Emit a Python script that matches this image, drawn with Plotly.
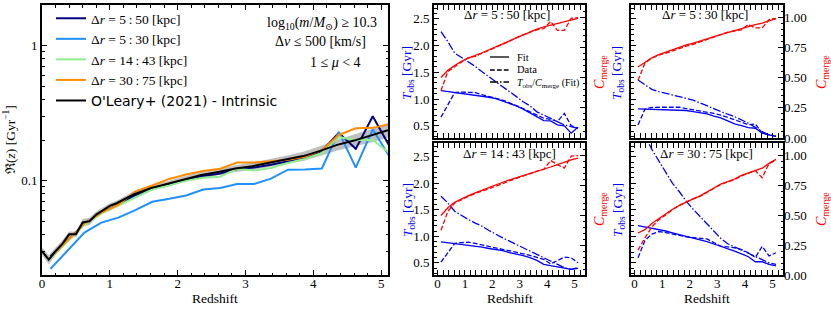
import plotly.graph_objects as go
import math

# ---------------- data ----------------
z_bins = [0.125, 0.375, 0.625, 0.875, 1.125, 1.375, 1.625, 1.875, 2.125, 2.375, 2.625,
          2.875, 3.125, 3.375, 3.625, 3.875, 4.125, 4.375, 4.625, 4.875, 5.125]

# merger rate, left panel
rate_5_50 = [0.0275, 0.036, 0.048, 0.058, 0.066, 0.078, 0.087, 0.094, 0.101, 0.108, 0.113,
             0.122, 0.125, 0.131, 0.139, 0.148, 0.166, 0.226, 0.172, 0.300, 0.179]
rate_5_30 = [0.0222, 0.0302, 0.0412, 0.0489, 0.0532, 0.0605, 0.0697, 0.0733, 0.0776, 0.0859, 0.0883,
             0.0945, 0.0945, 0.1035, 0.1205, 0.121, 0.123, 0.230, 0.125, 0.240, 0.150]
rate_14_43 = [0.0265, 0.035, 0.047, 0.057, 0.065, 0.075, 0.086, 0.092, 0.100, 0.105, 0.107,
              0.1225, 0.119, 0.124, 0.135, 0.145, 0.160, 0.210, 0.200, 0.200, 0.160]
rate_30_75 = [0.027, 0.036, 0.048, 0.058, 0.066, 0.0834, 0.092, 0.103, 0.111, 0.118, 0.1225,
              0.136, 0.136, 0.139, 0.143, 0.150, 0.168, 0.218, 0.244, 0.246, 0.262]

z_intr = [0.0, 0.1, 0.2, 0.3, 0.4, 0.5, 0.6, 0.7, 0.8, 0.9, 1.0, 1.1, 1.35, 1.6, 1.85, 2.1,
          2.35, 2.6, 2.85, 3.1, 3.35, 3.6, 3.85, 4.1, 4.35, 4.6, 4.85, 5.1]
rate_intr = [0.030, 0.026, 0.030, 0.034, 0.040, 0.040, 0.049, 0.050, 0.056, 0.060, 0.065, 0.068,
             0.079, 0.088, 0.095, 0.103, 0.110, 0.116, 0.123, 0.128, 0.135, 0.143, 0.152, 0.166,
             0.184, 0.198, 0.215, 0.236]
rate_intr_hi = [0.032, 0.028, 0.032, 0.036, 0.042, 0.042, 0.052, 0.053, 0.059, 0.063, 0.068, 0.071,
                0.083, 0.092, 0.099, 0.108, 0.116, 0.122, 0.130, 0.136, 0.144, 0.153, 0.164, 0.180,
                0.201, 0.219, 0.240, 0.266]
rate_intr_lo = [0.028, 0.024, 0.028, 0.032, 0.038, 0.038, 0.046, 0.047, 0.053, 0.057, 0.062, 0.065,
                0.075, 0.084, 0.091, 0.098, 0.104, 0.110, 0.116, 0.120, 0.126, 0.133, 0.140, 0.152,
                0.167, 0.179, 0.192, 0.208]

# small panels: C_merge fit / data, T_obs fit / data, T_obs/C_merge (fit)
cfit_5_50 = [0.50, 0.56, 0.60, 0.635, 0.66, 0.68, 0.705, 0.73, 0.755, 0.78, 0.805, 0.83, 0.855,
             0.88, 0.90, 0.92, 0.935, 0.95, 0.962, 0.975, 0.99]
cdat_5_50 = [0.39, 0.55, 0.59, 0.63, 0.665, 0.675, 0.70, 0.72, 0.75, 0.77, 0.80, 0.83, 0.855,
             0.875, 0.895, 0.905, 0.965, 0.89, 0.89, 0.99, 0.995]
tfit_5_50 = [1.157, 1.14, 1.127, 1.11, 1.09, 1.07, 1.058, 1.033, 1.008, 0.965, 0.92, 0.87, 0.81,
             0.735, 0.66, 0.595, 0.59, 0.515, 0.497, 0.36, 0.47]
tdat_5_50 = [0.66, 0.90, 1.12, 1.13, 1.13, 1.12, 1.08, 1.05, 1.02, 0.98, 0.93, 0.88, 0.82,
             0.76, 0.70, 0.64, 0.62, 0.58, 0.73, 0.50, 0.45]
tcr_5_50 = [2.26, 2.075, 1.86, 1.78, 1.70, 1.61, 1.51, 1.42, 1.33, 1.23, 1.14, 1.045, 0.95,
            0.87, 0.76, 0.70, 0.64, 0.577, 0.515, 0.485, 0.45]

cfit_5_30 = [0.587, 0.628, 0.664, 0.69, 0.71, 0.732, 0.752, 0.77, 0.785, 0.80, 0.82, 0.838, 0.855,
             0.87, 0.884, 0.903, 0.923, 0.937, 0.95, 0.968, 0.987]
cdat_5_30 = [0.477, 0.62, 0.66, 0.685, 0.70, 0.72, 0.745, 0.76, 0.775, 0.795, 0.81, 0.83, 0.85,
             0.875, 0.885, 0.895, 0.94, 0.91, 0.91, 0.98, 0.99]
tfit_5_30 = [0.815, 0.81, 0.81, 0.805, 0.80, 0.80, 0.797, 0.785, 0.765, 0.745, 0.72, 0.68, 0.645,
             0.59, 0.535, 0.50, 0.465, 0.453, 0.36, 0.33, 0.30]
tdat_5_30 = [0.515, 0.81, 0.845, 0.846, 0.846, 0.846, 0.846, 0.82, 0.80, 0.775, 0.76, 0.73, 0.70,
             0.655, 0.61, 0.56, 0.52, 0.534, 0.36, 0.33, 0.30]
tcr_5_30 = [1.357, 1.264, 1.18, 1.14, 1.11, 1.075, 1.045, 1.01, 0.98, 0.925, 0.87, 0.82, 0.764,
            0.715, 0.67, 0.61, 0.547, 0.47, 0.39, 0.33, 0.30]

cfit_14_43 = [0.496, 0.56, 0.606, 0.635, 0.661, 0.685, 0.708, 0.73, 0.752, 0.773, 0.793, 0.81, 0.828,
              0.845, 0.863, 0.882, 0.90, 0.92, 0.94, 0.959, 0.973]
cdat_14_43 = [0.372, 0.53, 0.60, 0.63, 0.655, 0.68, 0.70, 0.72, 0.735, 0.76, 0.785, 0.805, 0.825,
              0.85, 0.865, 0.88, 0.955, 0.92, 0.89, 0.99, 0.995]
tfit_14_43 = [0.896, 0.88, 0.86, 0.845, 0.833, 0.82, 0.795, 0.77, 0.75, 0.73, 0.69, 0.665, 0.635,
              0.596, 0.545, 0.47, 0.45, 0.427, 0.40, 0.376, 0.395]
tdat_14_43 = [0.513, 0.70, 0.865, 0.88, 0.89, 0.865, 0.838, 0.81, 0.79, 0.76, 0.73, 0.70, 0.67,
              0.64, 0.60, 0.564, 0.48, 0.55, 0.607, 0.596, 0.50]
tcr_14_43 = [1.754, 1.63, 1.472, 1.39, 1.316, 1.25, 1.19, 1.11, 1.034, 0.97, 0.908, 0.845, 0.784,
             0.72, 0.658, 0.595, 0.532, 0.47, 0.408, 0.376, 0.408]

cfit_30_75 = [0.35, 0.378, 0.43, 0.47, 0.51, 0.548, 0.58, 0.61, 0.635, 0.66, 0.69, 0.725, 0.758,
              0.78, 0.80, 0.83, 0.85, 0.868, 0.89, 0.93, 0.964]
cdat_30_75 = [0.207, 0.31, 0.40, 0.46, 0.50, 0.545, 0.58, 0.61, 0.635, 0.655, 0.69, 0.72, 0.755,
              0.775, 0.795, 0.825, 0.845, 0.87, 0.81, 0.93, 0.955]
tfit_30_75 = [1.203, 1.18, 1.15, 1.128, 1.10, 1.065, 1.034, 1.00, 0.97, 0.94, 0.90, 0.855, 0.814,
              0.765, 0.72, 0.67, 0.615, 0.52, 0.52, 0.47, 0.44]
tdat_30_75 = [0.596, 0.92, 1.04, 1.09, 1.07, 1.04, 1.01, 0.99, 0.975, 0.96, 0.95, 0.88, 0.814,
              0.80, 0.784, 0.75, 0.69, 0.60, 0.81, 0.63, 0.69]
tcr_30_75 = [3.2, 2.9, 2.64, 2.42, 2.20, 2.0, 1.84, 1.66, 1.51, 1.37, 1.22, 1.08, 0.96,
             0.86, 0.80, 0.75, 0.69, 0.63, 0.56, 0.50, 0.47]

# ---------------- layout helpers ----------------
W, H = 831, 309
def px(x):
    return x / W
def py(y):
    return 1 - y / H

SERIF = "Liberation Serif, DejaVu Serif, serif"
SANS = "DejaVu Sans"
TICKFONT = dict(family=SERIF, size=13, color="black")
BLUE = "#0000ff"
RED = "#ff0000"
TS = "\u2009"  # thin space

fig = go.Figure()

# ---------------- left panel ----------------
fig.add_trace(go.Scatter(x=z_intr + z_intr[::-1], y=rate_intr_hi + rate_intr_lo[::-1],
                         fill="toself", fillcolor="rgba(128,128,128,0.5)",
                         line=dict(width=0), hoverinfo="skip", showlegend=False,
                         xaxis="x", yaxis="y"))
def dr(a, b):
    return "Δ<i>r</i> = " + a + TS + ":" + TS + b + " [kpc]"

left_series = [
    (dr("5", "50"), rate_5_50, "#000080"),
    (dr("5", "30"), rate_5_30, "#1e90ff"),
    (dr("14", "43"), rate_14_43, "#90ee90"),
    (dr("30", "75"), rate_30_75, "#ff8c00"),
]
for name, vals, col in left_series:
    fig.add_trace(go.Scatter(x=z_bins, y=vals, mode="lines", name=name,
                             line=dict(color=col, width=2), xaxis="x", yaxis="y",
                             legend="legend"))
fig.add_trace(go.Scatter(x=z_intr, y=rate_intr, mode="lines",
                         name="<span style='font-family:DejaVu Sans;font-size:14px'>O'Leary+ (2021) - Intrinsic</span>",
                         line=dict(color="black", width=2), xaxis="x", yaxis="y",
                         legend="legend"))

# ---------------- small panels ----------------
panels = [
    (cfit_5_50, cdat_5_50, tfit_5_50, tdat_5_50, tcr_5_50, "x2", "y2", "y3"),
    (cfit_5_30, cdat_5_30, tfit_5_30, tdat_5_30, tcr_5_30, "x3", "y4", "y5"),
    (cfit_14_43, cdat_14_43, tfit_14_43, tdat_14_43, tcr_14_43, "x4", "y6", "y7"),
    (cfit_30_75, cdat_30_75, tfit_30_75, tdat_30_75, tcr_30_75, "x5", "y8", "y9"),
]
DASH = "4.8px,2.1px"
DASHDOT = "8px,2px,1.5px,2px"
LW = 1.3
for cfit, cdat, tfit, tdat, tcr, xa, ya_t, ya_c in panels:
    fig.add_trace(go.Scatter(x=z_bins, y=tcr, mode="lines", line=dict(color=BLUE, width=LW, dash=DASHDOT),
                             xaxis=xa, yaxis=ya_t, showlegend=False))
    fig.add_trace(go.Scatter(x=z_bins, y=tdat, mode="lines", line=dict(color=BLUE, width=LW, dash=DASH),
                             xaxis=xa, yaxis=ya_t, showlegend=False))
    fig.add_trace(go.Scatter(x=z_bins, y=tfit, mode="lines", line=dict(color=BLUE, width=LW),
                             xaxis=xa, yaxis=ya_t, showlegend=False))
    fig.add_trace(go.Scatter(x=z_bins, y=cdat, mode="lines", line=dict(color=RED, width=LW, dash=DASH),
                             xaxis=xa, yaxis=ya_c, showlegend=False))
    fig.add_trace(go.Scatter(x=z_bins, y=cfit, mode="lines", line=dict(color=RED, width=LW),
                             xaxis=xa, yaxis=ya_c, showlegend=False))

# ---------------- axes ----------------
def xax(domain, anchor, rng, labels=True):
    return dict(domain=domain, anchor=anchor, range=rng, showline=True, linewidth=2, linecolor="black",
                mirror="allticks", ticks="inside", ticklen=5, tickwidth=1.2, tickcolor="black",
                dtick=1, tick0=0, showticklabels=labels, tickfont=TICKFONT, showgrid=False,
                zeroline=False, automargin=False, ticklabelstandoff=-5,
                minor=dict(dtick=0.2, tick0=0, ticks="inside", ticklen=2.5, tickwidth=1, tickcolor="black"))

layout = dict(width=W, height=H, margin=dict(l=0, r=0, t=0, b=0), template="none",
              paper_bgcolor="white", plot_bgcolor="rgba(0,0,0,0)", showlegend=True)

L_DOM_X = [px(42), px(388)]
M_DOM_X = [px(434), px(585)]
R_DOM_X = [px(631), px(783)]
TOP_Y = [py(138), py(5)]
BOT_Y = [py(275), py(143)]

layout["xaxis"] = xax(L_DOM_X, "y", [0, 5.1], True)
minor_log = [0.02, 0.03, 0.04, 0.05, 0.06, 0.07, 0.08, 0.09, 0.2, 0.3, 0.4, 0.5, 0.6, 0.7, 0.8, 0.9, 2]
layout["yaxis"] = dict(domain=[py(275), py(5)], anchor="x", type="log",
                       range=[math.log10(0.02), math.log10(2)], showline=True, linewidth=2,
                       linecolor="black", mirror="allticks", ticks="inside", ticklen=5, tickwidth=1.2,
                       tickcolor="black", tickmode="array", tickvals=[0.1, 1], ticktext=["0.1", "1"],
                       tickfont=TICKFONT, showgrid=False, zeroline=False, automargin=False,
                       minor=dict(tickmode="array", tickvals=minor_log, ticks="inside", ticklen=2.5,
                                  tickwidth=1, tickcolor="black"))

SMALL_X = [-0.13, 5.38]
T_RANGE = [0.27, 2.76]
C_RANGE = [0.0, 1.1]
small_axes = [("xaxis2", "yaxis2", "yaxis3", "x2", "y2", M_DOM_X, TOP_Y, False, True, False),
              ("xaxis3", "yaxis4", "yaxis5", "x3", "y4", R_DOM_X, TOP_Y, False, False, True),
              ("xaxis4", "yaxis6", "yaxis7", "x4", "y6", M_DOM_X, BOT_Y, True, True, False),
              ("xaxis5", "yaxis8", "yaxis9", "x5", "y8", R_DOM_X, BOT_Y, True, False, True)]
for xk, ytk, yck, xid, ytid, dx, dy, xlab, tlab, clab in small_axes:
    layout[xk] = xax(dx, ytid, SMALL_X, xlab)
    layout[ytk] = dict(domain=dy, anchor=xid, range=T_RANGE, showline=True, linewidth=2, linecolor="black",
                       mirror=True, ticks="inside", ticklen=5, tickwidth=1.2, tickcolor="black",
                       dtick=0.5, tick0=0, tickformat=".1f", showticklabels=tlab, tickfont=TICKFONT,
                       showgrid=False, zeroline=False, automargin=False,
                       minor=dict(dtick=0.1, tick0=0, ticks="inside", ticklen=2.5, tickwidth=1,
                                  tickcolor="black"))
    layout[yck] = dict(anchor=xid, overlaying=ytid, side="right", range=C_RANGE, showline=False,
                       ticks="inside", ticklen=5, tickwidth=1.2, tickcolor="black", dtick=0.25, tick0=0,
                       tickformat=".2f", showticklabels=clab, tickfont=TICKFONT, showgrid=False,
                       zeroline=False, automargin=False,
                       minor=dict(dtick=0.05, tick0=0, ticks="inside", ticklen=2.5, tickwidth=1,
                                  tickcolor="black"))

layout["legend"] = dict(x=px(51), y=py(3), xanchor="left", yanchor="top", bgcolor="rgba(0,0,0,0)",
                        font=dict(family=SERIF, size=13.5, color="black"), tracegroupgap=0,
                        itemwidth=30)

# style key (Fit / Data / ratio) in the top-middle panel, drawn as shapes + text
shapes = []
for yy, dash in [(57, "solid"), (70, DASH), (82, DASHDOT)]:
    shapes.append(dict(type="line", xref="paper", yref="paper", x0=px(490), x1=px(509),
                       y0=py(yy), y1=py(yy), line=dict(color="black", width=LW, dash=dash)))
layout["shapes"] = shapes

fig.update_layout(**layout)

# ---------------- annotations ----------------
ann = []
def add_text(text, x, y, size=12, color="black", angle=0, xanchor="center", family=SERIF):
    ann.append(dict(text=text, x=px(x), y=py(y), xref="paper", yref="paper", showarrow=False,
                    xanchor=xanchor, yanchor="middle", textangle=angle,
                    font=dict(family=family, size=size, color=color)))

add_text("Fit", 515, 57, 10.5, xanchor="left")
add_text("Data", 515, 70, 10.5, xanchor="left")
add_text("<i>T</i><sub>obs</sub>/<i>C</i><sub>merge</sub> (Fit)", 515, 83, 10, xanchor="left")

add_text("log<sub>10</sub>(<i>m</i>/<i>M</i><sub>⊙</sub>) ≥ 10.3", 379, 24, 14, xanchor="right")
add_text("Δ<i>v</i> ≤ 500 [km/s]", 368, 42, 14, xanchor="right")
add_text("1 ≤ <i>μ</i> < 4", 363, 62, 14, xanchor="right")
add_text("ℜ(<i>z</i>) [Gyr<sup>−1</sup>]", 10, 140, 13.5, angle=-90)

for a, b, cx, cy in [("5", "50", 507, 15), ("5", "30", 705, 15), ("14", "43", 509, 153), ("30", "75", 706, 153)]:
    add_text(dr(a, b), cx, cy, 13)

for cx in (215, 510, 707):
    add_text("Redshift", cx, 298, 13.5)

for cx in (408, 618):
    for cy in (73, 210):
        add_text("<i>T</i><sub>obs</sub> [Gyr]", cx, cy, 13.5, BLUE, -90)
for cx in (600, 822):
    for cy in (72, 209):
        add_text("<i>C</i><sub>merge</sub>", cx, cy, 14, RED, -90)

fig.update_layout(annotations=ann)
fig.write_html("out.html", config={"displayModeBar": False},
               post_script="document.body.style.margin='0px';")
